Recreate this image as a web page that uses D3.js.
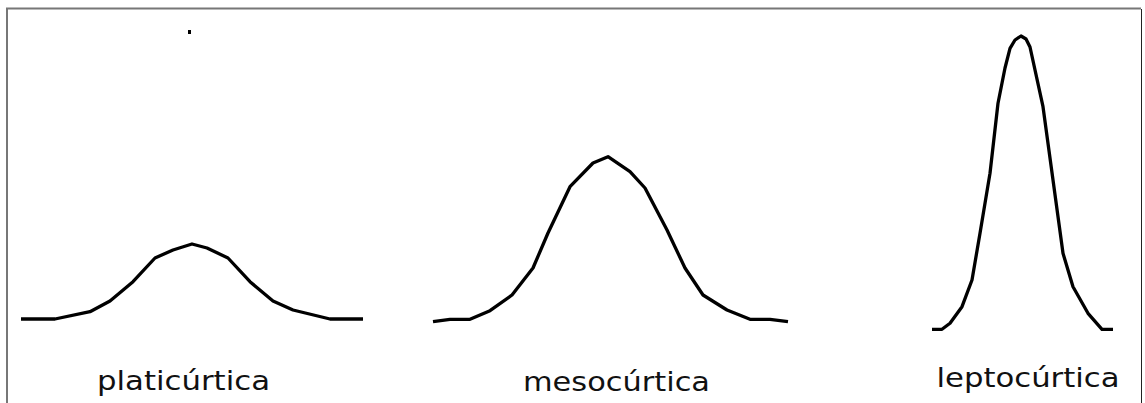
<!DOCTYPE html>
<html lang="es">
<head>
  <meta charset="UTF-8" />
  <title>Curtosis</title>
  <script src="https://d3js.org/d3.v7.min.js"></script>
  <style>
    html, body { margin: 0; padding: 0; background: #fff; }
    svg { display: block; }
    .label { font-family: 'DejaVu Sans', sans-serif; font-size: 27px; fill: #111; }
  </style>
</head>
<body>
  <div id="chart"></div>
  <script>
    // curve points: x position, height above the common floor
    const platiX = [21, 55, 90, 110, 133, 155, 173, 192, 207, 228, 250, 273, 293, 330, 363];
    const platiY = [11, 11, 18.3, 29, 48.3, 72, 80, 86, 82, 72, 48.3, 29, 20, 11, 11];

    const mesoX = [433, 450, 470, 490, 512, 533, 548, 570, 593, 608, 630, 645, 667, 685, 703, 727, 750, 770, 788];
    const mesoY = [8.3, 10.7, 10.7, 19.3, 35, 62, 97, 143.3, 167, 173.3, 158.3, 142, 100, 62, 35, 20, 10.7, 10.7, 8.3];

    const leptoX = [932, 942, 950, 962, 972, 980, 990, 998, 1005, 1010, 1015, 1021, 1026, 1030, 1043, 1053, 1063, 1073, 1088, 1102, 1113];
    const leptoY = [0.7, 0.7, 6.7, 23.3, 50, 96.7, 156.7, 226.7, 262, 281.7, 290, 294, 291, 283, 223.3, 150, 76.7, 43.3, 16.7, 0.7, 0.7];

    const labels = ["platicúrtica", "mesocúrtica", "leptocúrtica"];
    const labelX = [183.5, 616.5, 1028];
    const labelY = [390, 391, 387];
    const labelW = [173, 187, 183];

    const width = 1145, height = 403;

    const svg = d3.select("#chart")
      .append("svg")
      .attr("width", width)
      .attr("height", height);

    const x = d3.scaleLinear().domain([0, width]).range([0, width]);
    const y = d3.scaleLinear().domain([0, 300]).range([330, 30]);

    // frame
    svg.append("line").attr("x1", 7).attr("x2", 7).attr("y1", 8).attr("y2", height)
      .attr("stroke", "#777").attr("stroke-width", 2);
    svg.append("line").attr("x1", 6).attr("x2", 1141).attr("y1", 8.5).attr("y2", 8.5)
      .attr("stroke", "#777").attr("stroke-width", 2);
    svg.append("line").attr("x1", 1141.5).attr("x2", 1141.5).attr("y1", 9).attr("y2", height)
      .attr("stroke", "#222").attr("stroke-width", 1);

    const line = d3.line()
      .x(d => x(d[0]))
      .y(d => y(d[1]))
      .curve(d3.curveLinear);

    const curves = [
      d3.zip(platiX, platiY),
      d3.zip(mesoX, mesoY),
      d3.zip(leptoX, leptoY)
    ];

    svg.selectAll("path.curve")
      .data(curves)
      .join("path")
      .attr("class", "curve")
      .attr("fill", "none")
      .attr("stroke", "#000")
      .attr("stroke-width", 3.3)
      .attr("stroke-linejoin", "round")
      .attr("stroke-linecap", "butt")
      .attr("d", line);

    // stray dot near the top
    svg.append("rect")
      .attr("x", 188).attr("y", 30)
      .attr("width", 3).attr("height", 4)
      .attr("fill", "#000");

    svg.selectAll("text.label")
      .data(labels)
      .join("text")
      .attr("class", "label")
      .attr("text-anchor", "middle")
      .attr("x", (d, i) => labelX[i])
      .attr("y", (d, i) => labelY[i])
      .attr("textLength", (d, i) => labelW[i])
      .attr("lengthAdjust", "spacingAndGlyphs")
      .text(d => d);
  </script>
</body>
</html>
